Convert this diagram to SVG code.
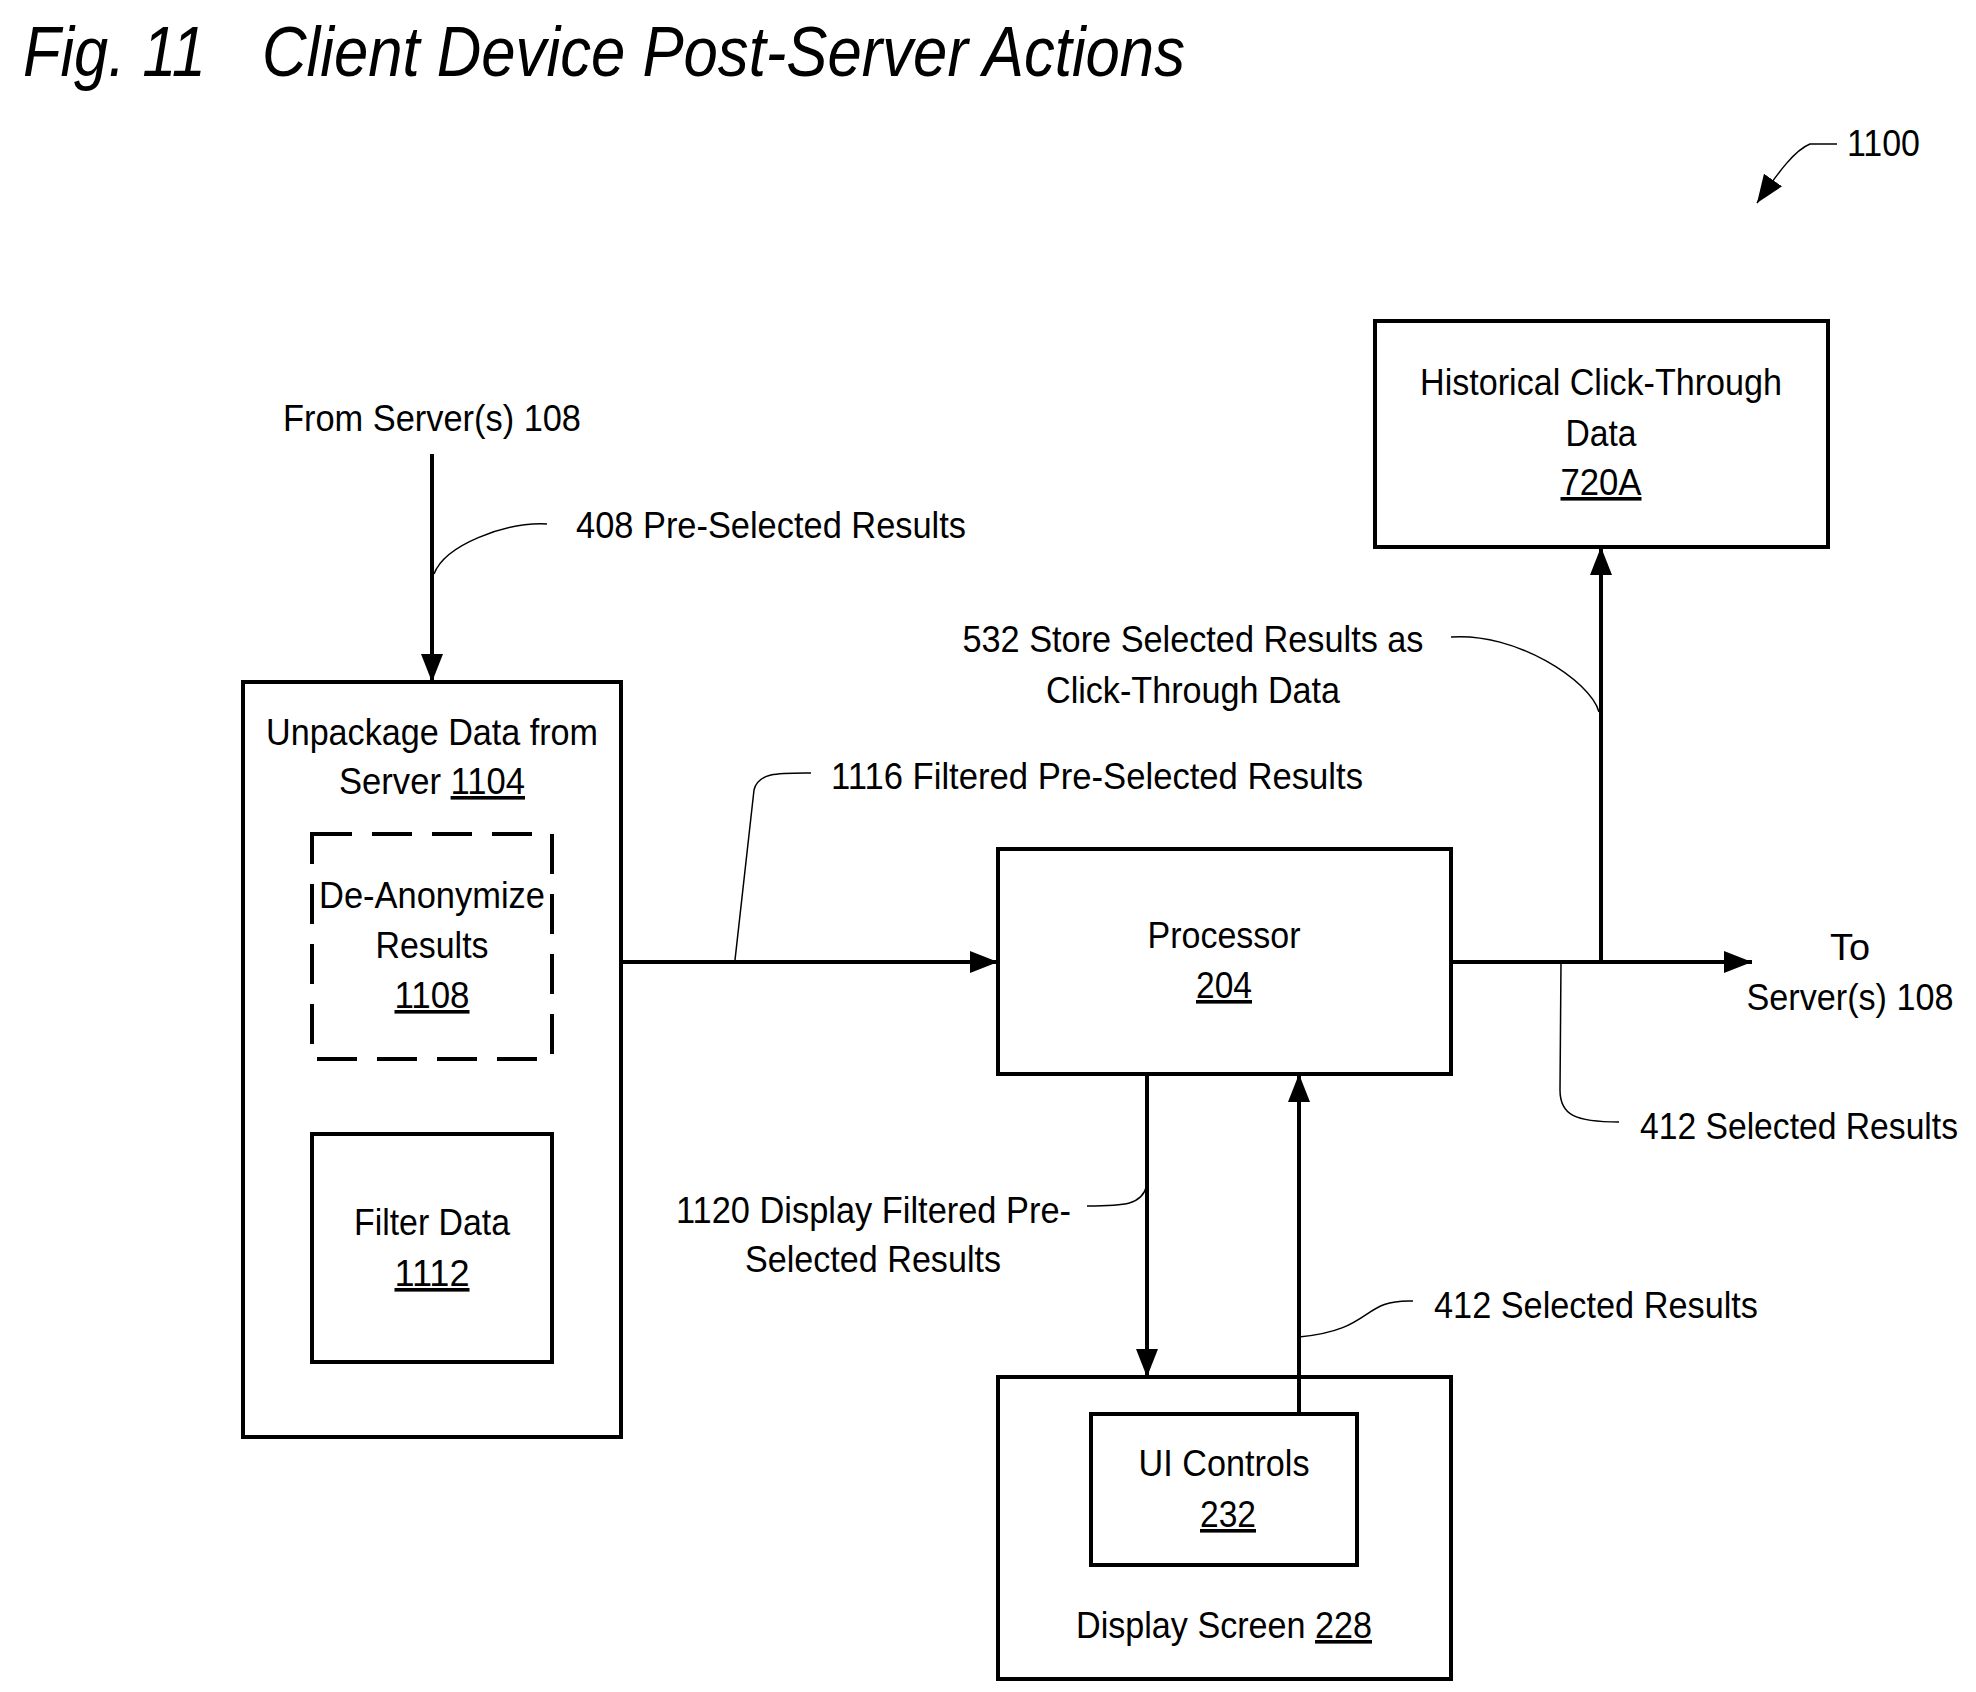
<svg xmlns="http://www.w3.org/2000/svg" width="1976" height="1692" viewBox="0 0 1976 1692">
<style>
text{font-family:"Liberation Sans",Arial,sans-serif;font-size:36px;fill:#000}
.t{font-style:italic;font-size:70px}
.box{fill:none;stroke:#000;stroke-width:4}
.c{text-anchor:middle}
.ln{fill:none;stroke:#000;stroke-width:4}
.ld{fill:none;stroke:#000;stroke-width:1.5}
</style>
<defs>
<marker id="ah" markerUnits="userSpaceOnUse" markerWidth="30" markerHeight="22" refX="28" refY="11" orient="auto">
<path d="M0,0 L28,11 L0,22 Z" fill="#000"/>
</marker>
</defs>
<rect width="1976" height="1692" fill="#fff"/>
<text class="t" x="23" y="76" textLength="183" lengthAdjust="spacingAndGlyphs">Fig. 11</text>
<text class="t" x="262" y="76" textLength="923" lengthAdjust="spacingAndGlyphs">Client Device Post-Server Actions</text>

<g id="unpackage">
<rect class="box" x="243" y="682" width="378" height="755"/>
<text class="c" x="432" y="745" textLength="332" lengthAdjust="spacingAndGlyphs">Unpackage Data from</text>
<text class="c" x="432" y="794" textLength="186" lengthAdjust="spacingAndGlyphs">Server <tspan text-decoration="underline">1104</tspan></text>
</g>
<g id="deanon">
<rect x="312" y="834" width="240" height="225" fill="none" stroke="#000" stroke-width="4" stroke-dasharray="40,20"/>
<text class="c" x="432" y="908" textLength="226" lengthAdjust="spacingAndGlyphs">De-Anonymize</text>
<text class="c" x="432" y="958" textLength="113" lengthAdjust="spacingAndGlyphs">Results</text>
<text class="c" x="432" y="1008" textLength="75" lengthAdjust="spacingAndGlyphs" text-decoration="underline">1108</text>
</g>
<g id="filter">
<rect class="box" x="312" y="1134" width="240" height="228"/>
<text class="c" x="432" y="1235" textLength="156" lengthAdjust="spacingAndGlyphs">Filter Data</text>
<text class="c" x="432" y="1286" textLength="75" lengthAdjust="spacingAndGlyphs" text-decoration="underline">1112</text>
</g>
<g id="processor">
<rect class="box" x="998" y="849" width="453" height="225"/>
<text class="c" x="1224" y="948" textLength="153" lengthAdjust="spacingAndGlyphs">Processor</text>
<text class="c" x="1224" y="998" textLength="56" lengthAdjust="spacingAndGlyphs" text-decoration="underline">204</text>
</g>
<g id="historical">
<rect class="box" x="1375" y="321" width="453" height="226"/>
<text class="c" x="1601" y="395" textLength="362" lengthAdjust="spacingAndGlyphs">Historical Click-Through</text>
<text class="c" x="1601" y="446" textLength="71" lengthAdjust="spacingAndGlyphs">Data</text>
<text class="c" x="1601" y="495" textLength="81" lengthAdjust="spacingAndGlyphs" text-decoration="underline">720A</text>
</g>
<g id="display">
<rect class="box" x="998" y="1377" width="453" height="302"/>
<text class="c" x="1224" y="1638" textLength="296" lengthAdjust="spacingAndGlyphs">Display Screen <tspan text-decoration="underline">228</tspan></text>
</g>
<g id="uicontrols">
<rect class="box" x="1091" y="1414" width="266" height="151"/>
<text class="c" x="1224" y="1476" textLength="171" lengthAdjust="spacingAndGlyphs">UI Controls</text>
<text class="c" x="1228" y="1527" textLength="56" lengthAdjust="spacingAndGlyphs" text-decoration="underline">232</text>
</g>

<g id="connectors">
<text class="c" x="432" y="431" textLength="298" lengthAdjust="spacingAndGlyphs">From Server(s) 108</text>
<line class="ln" x1="432" y1="454" x2="432" y2="682" marker-end="url(#ah)"/>
<text x="576" y="538" textLength="390" lengthAdjust="spacingAndGlyphs">408 Pre-Selected Results</text>
<path class="ld" d="M547,524 C505,522 445,545 434,574"/>

<line class="ln" x1="621" y1="962" x2="998" y2="962" marker-end="url(#ah)"/>
<text x="831" y="789" textLength="532" lengthAdjust="spacingAndGlyphs">1116 Filtered Pre-Selected Results</text>
<path class="ld" d="M811,773 C780,773 758,772 754,790 L735,960"/>

<line class="ln" x1="1451" y1="962" x2="1752" y2="962" marker-end="url(#ah)"/>
<text class="c" x="1850" y="960" textLength="40" lengthAdjust="spacingAndGlyphs">To</text>
<text class="c" x="1850" y="1010" textLength="207" lengthAdjust="spacingAndGlyphs">Server(s) 108</text>
<line class="ln" x1="1601" y1="962" x2="1601" y2="547" marker-end="url(#ah)"/>
<text class="c" x="1193" y="652" textLength="461" lengthAdjust="spacingAndGlyphs">532 Store Selected Results as</text>
<text class="c" x="1193" y="703" textLength="294" lengthAdjust="spacingAndGlyphs">Click-Through Data</text>
<path class="ld" d="M1451,637 C1515,632 1590,680 1599,712"/>
<text x="1640" y="1139" textLength="318" lengthAdjust="spacingAndGlyphs">412 Selected Results</text>
<path class="ld" d="M1619,1122 C1575,1122 1560,1115 1560,1090 L1561,962"/>

<line class="ln" x1="1147" y1="1074" x2="1147" y2="1377" marker-end="url(#ah)"/>
<line class="ln" x1="1299" y1="1414" x2="1299" y2="1074" marker-end="url(#ah)"/>
<text x="1071" y="1223" text-anchor="end" textLength="395" lengthAdjust="spacingAndGlyphs">1120 Display Filtered Pre-</text>
<text class="c" x="873" y="1272" textLength="256" lengthAdjust="spacingAndGlyphs">Selected Results</text>
<path class="ld" d="M1087,1206 C1125,1206 1142,1205 1147,1185"/>
<text x="1434" y="1318" textLength="324" lengthAdjust="spacingAndGlyphs">412 Selected Results</text>
<path class="ld" d="M1413,1301 C1360,1299 1375,1330 1299,1337"/>

<text x="1847" y="156" textLength="73" lengthAdjust="spacingAndGlyphs">1100</text>
<path class="ld" d="M1837,144 L1810,144 C1795,150 1780,170 1757,203" marker-end="url(#ah)"/>
</g>
</svg>
